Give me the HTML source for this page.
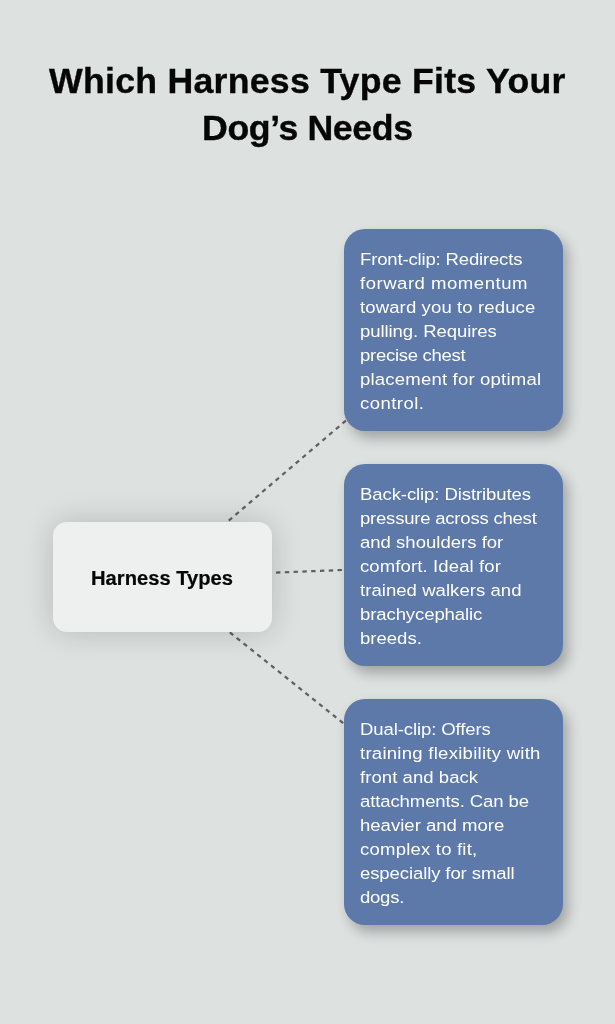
<!DOCTYPE html>
<html lang="en">
<head>
<meta charset="utf-8">
<title>Which Harness Type Fits Your Dog’s Needs</title>
<style>
html,body{margin:0;padding:0;background:#dde1e0;}
body{width:615px;height:1024px;background:#dde1e0;position:relative;overflow:hidden;font-family:"Liberation Sans",sans-serif;}
h1{will-change:transform;position:absolute;left:0;top:57px;width:615px;margin:0;font-weight:bold;font-size:35px;line-height:48px;color:#060606;-webkit-text-stroke:0.35px #060606;}
h1 span{display:block;white-space:nowrap;position:absolute;width:max-content;transform-origin:0 50%;transform:scaleX(1.02);}
h1 .a{left:49.0px;top:0;}
h1 .b{left:202.4px;top:47px;}
.box{position:absolute;left:344px;width:219.3px;border-radius:21px;background:#5c79a9;color:#fff;font-size:17.33px;line-height:24.1px;box-shadow:5px 7px 13px rgba(0,0,0,0.28);}
.box p{will-change:transform;margin:0;position:absolute;left:16.0px;top:0;white-space:nowrap;line-height:24px;}
.box p span{display:block;position:absolute;left:0;height:24px;transform-origin:0 50%;transform:scaleX(1.07);}
#b1{top:229px;height:201.8px;}
#b2{top:464px;height:201.9px;}
#b3{top:699px;height:225.8px;}
#root{position:absolute;left:53px;top:522px;width:219px;height:110px;border-radius:14px;background:#eef0f0;box-shadow:0 0 30px rgba(0,0,0,0.18);}
#root div{will-change:transform;position:absolute;left:37.9px;top:44.0px;font-weight:bold;font-size:19.4px;line-height:24px;color:#060606;white-space:nowrap;letter-spacing:0px;-webkit-text-stroke:0.2px #060606;transform-origin:0 50%;transform:scaleX(1.04);}
svg{position:absolute;left:0;top:0;}
</style>
</head>
<body>
<svg width="615" height="1024" viewBox="0 0 615 1024">
  <g fill="none" stroke="#606060" stroke-width="2.2" stroke-dasharray="4.4 4.4">
    <line x1="228.8" y1="520.6" x2="346" y2="420.5"/>
    <line x1="276" y1="572.6" x2="345" y2="569.9"/>
    <line x1="229.8" y1="632.3" x2="346" y2="725.3"/>
  </g>
</svg>
<h1><span class="a" style="letter-spacing:0.238px">Which Harness Type Fits Your</span> <span class="b" style="letter-spacing:-0.382px">Dog’s Needs</span></h1>
<div class="box" id="b1"><p><span style="top:18px;letter-spacing:-0.160px">Front-clip: Redirects</span> <span style="top:42px;letter-spacing:0.479px">forward momentum</span> <span style="top:66px;letter-spacing:0.104px">toward you to reduce</span> <span style="top:90px;letter-spacing:-0.079px">pulling. Requires</span> <span style="top:114px;letter-spacing:-0.275px">precise chest</span> <span style="top:138px;letter-spacing:0.175px">placement for optimal</span> <span style="top:162px;letter-spacing:0.416px">control.</span></p></div>
<div class="box" id="b2"><p><span style="top:18px;letter-spacing:-0.092px">Back-clip: Distributes</span> <span style="top:42px;letter-spacing:-0.214px">pressure across chest</span> <span style="top:66px;letter-spacing:0.000px">and shoulders for</span> <span style="top:90px;letter-spacing:0.097px">comfort. Ideal for</span> <span style="top:114px;letter-spacing:0.038px">trained walkers and</span> <span style="top:138px;letter-spacing:-0.097px">brachycephalic</span> <span style="top:162px;letter-spacing:0.000px">breeds.</span></p></div>
<div class="box" id="b3"><p><span style="top:18px;letter-spacing:-0.103px">Dual-clip: Offers</span> <span style="top:42px;letter-spacing:0.243px">training flexibility with</span> <span style="top:66px;letter-spacing:0.045px">front and back</span> <span style="top:90px;letter-spacing:-0.108px">attachments. Can be</span> <span style="top:114px;letter-spacing:0.000px">heavier and more</span> <span style="top:138px;letter-spacing:0.187px">complex to fit,</span> <span style="top:162px;letter-spacing:-0.102px">especially for small</span> <span style="top:186px;letter-spacing:-0.243px">dogs.</span></p></div>
<div id="root"><div>Harness Types</div></div>
</body>
</html>
